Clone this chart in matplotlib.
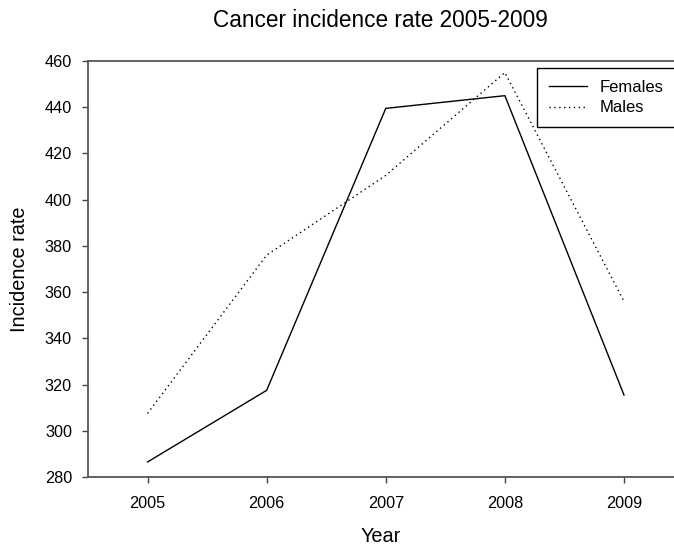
import matplotlib
matplotlib.use("Agg")
import matplotlib.pyplot as plt

plt.rcParams['font.family'] = ['Liberation Sans', 'DejaVu Sans']

# Cancer incidence per year
years = [2005, 2006, 2007, 2008, 2009]
females = [286.5, 317.5, 439.5, 445.0, 315.5]
males = [307.5, 376.0, 410.5, 455.0, 356.0]
y_ticks = [280, 300, 320, 340, 360, 380, 400, 420, 440, 460]

fig = plt.figure(figsize=(6.74, 5.46), dpi=100)
ax = fig.add_axes([88 / 674, 69 / 546, 1 - 88 / 674, 416 / 546])

ax.plot(years, females, color='black', lw=1.0, label='Females')
ax.plot(years, males, color='black', lw=1.0, ls=(0, (1, 2.5)), label='Males')

ax.set_xlim(2004.5, 2009.42)
ax.set_ylim(280, 460)
ax.set_xticks(years)
ax.set_yticks(y_ticks)
ax.tick_params(direction='out', length=4.5, width=1, colors='#444444',
               labelcolor='black', labelsize=11.7, pad=7)
ax.tick_params(axis='x', pad=9)

for side in ['left', 'top', 'bottom']:
    ax.spines[side].set_color('#555555')
    ax.spines[side].set_linewidth(1.3)
ax.spines['right'].set_visible(False)

ax.set_xlabel('Year', fontsize=14.3, labelpad=11.5)
ax.set_ylabel('Incidence rate', fontsize=14.3, labelpad=11.5)
fig.text(380 / 674, 1 - 20.5 / 546, 'Cancer incidence rate 2005-2009',
         fontsize=16.3, ha='center', va='center')

leg = ax.legend(loc='upper left', bbox_to_anchor=(0.766, 0.982), borderaxespad=0,
                fancybox=False, framealpha=1, edgecolor='black', fontsize=12,
                handlelength=2.3, handletextpad=0.75, borderpad=0.7, labelspacing=0.32)
leg.get_frame().set_linewidth(1.0)

fig.savefig('out.png', dpi=100)
